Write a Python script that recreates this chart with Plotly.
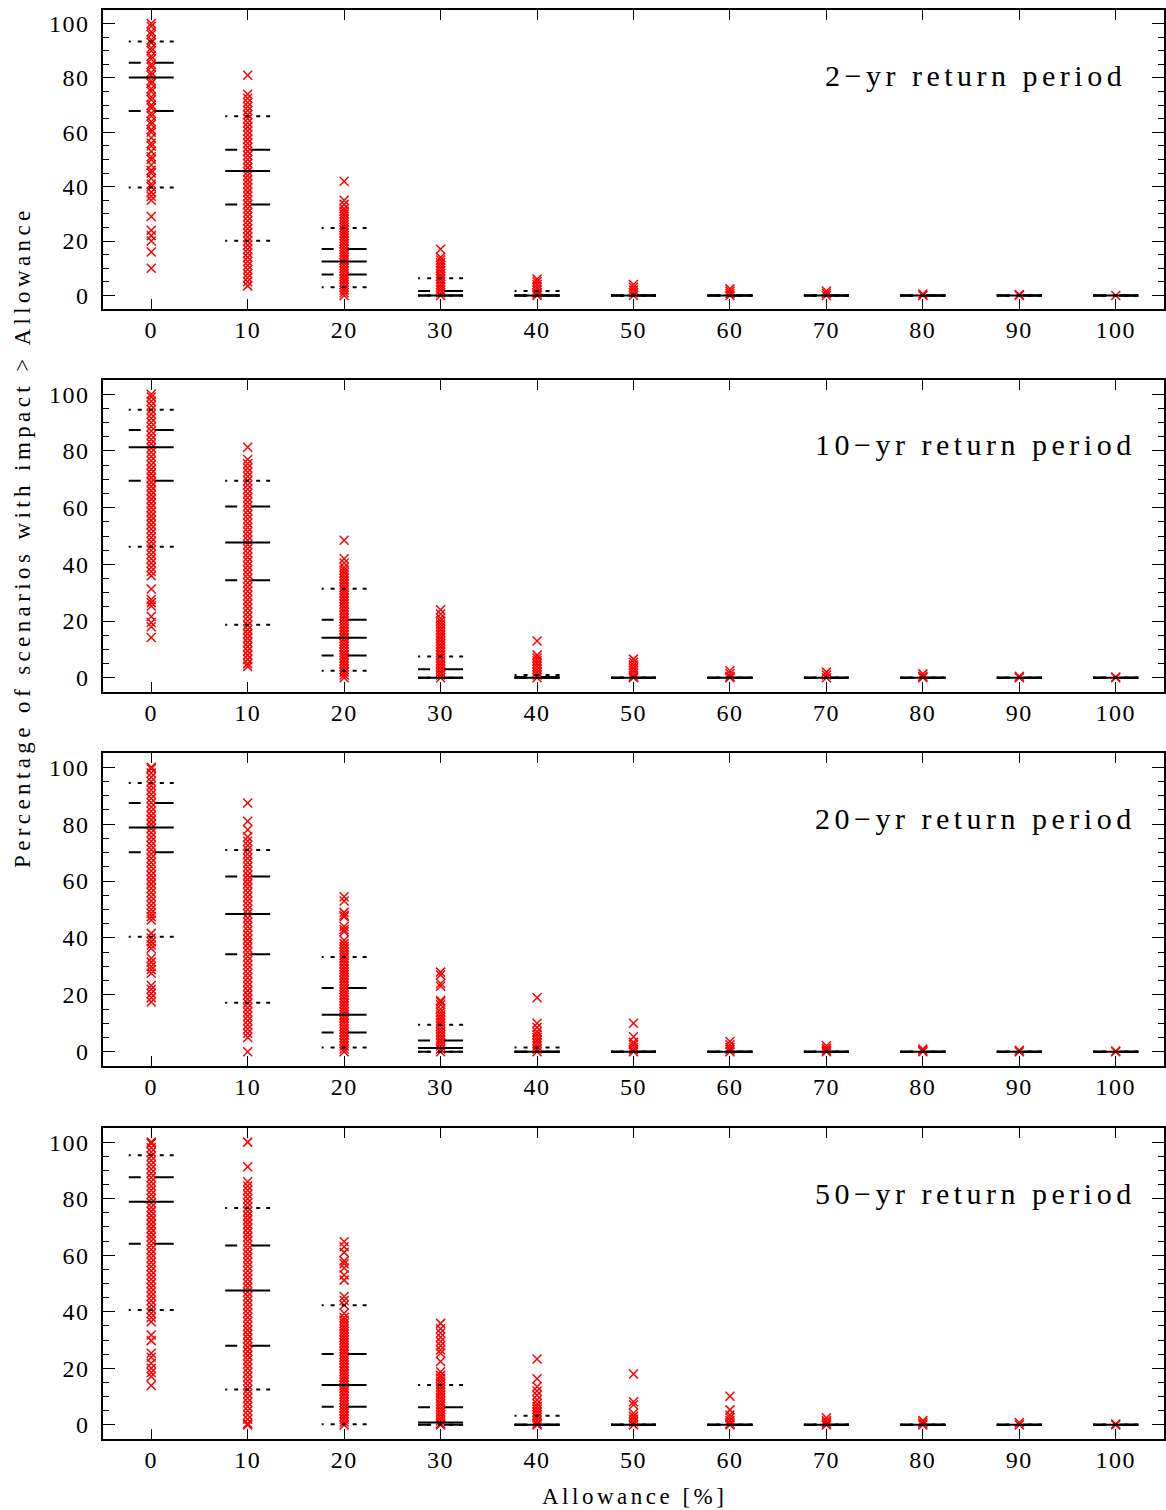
import plotly.graph_objects as go

# Allowance levels on the x axis (%)
allowance = [0, 10, 20, 30, 40, 50, 60, 70, 80, 90, 100]

panel_labels = ["2−yr return period", "10−yr return period",
                "20−yr return period", "50−yr return period"]

# ---- 2-yr return period: per-scenario values at each allowance ----
rp2_scenarios = [
    [10, 16, 20, 22, 24, 29, 35, 36.5, 38, 40, 41, 43, 45, 46, 48, 50, 51, 53, 55, 56, 58, 60, 61, 63,
     64, 66, 67, 69, 70, 72, 73, 75, 76, 78, 79, 81, 82, 84, 85, 87, 88, 90, 91, 93, 94, 96, 97, 99, 100],
    [81, 74, 72.5, 71, 69.5, 68, 66.5, 65, 63.5, 62, 60.5, 59, 57.5, 56, 54.5, 53, 51.5, 50, 48.5, 47,
     45.5, 44, 42.5, 41, 39.5, 38, 36.5, 35, 33.5, 32, 30.5, 29, 27.5, 26, 24.5, 23, 21.5, 20, 18.5, 17,
     15.5, 14, 12.5, 11, 9.5, 8, 6.5, 5, 3.5],
    [42, 35, 33.5, 32, 31, 30, 29, 28, 27, 26, 25, 24, 23, 22, 21, 20, 19, 18, 17, 16, 15, 14, 13, 12,
     11, 10, 9, 8, 7, 6, 5, 4, 3, 2, 1, 0],
    [17, 14, 13, 12, 11, 10, 9, 8, 7, 6, 5, 4, 3, 2, 1, 0],
    [6, 5, 4, 3, 2, 1, 0.5, 0],
    [4, 3, 2, 1, 0],
    [2.4, 1.5, 0.7, 0],
    [1.6, 0.8, 0],
    [0.5, 0],
    [0.3, 0],
    [0],
]
rp2_median = [80.2, 45.8, 12.5, 0, 0, 0, 0, 0, 0, 0, 0]
rp2_q75 = [85.6, 53.6, 17.1, 1.6, 0, 0, 0, 0, 0, 0, 0]
rp2_q25 = [67.8, 33.4, 7.7, 0, 0, 0, 0, 0, 0, 0, 0]
rp2_p90 = [93.4, 65.9, 24.8, 6.3, 1.6, 0, 0, 0, 0, 0, 0]
rp2_p10 = [39.7, 20.1, 3.0, 0, 0, 0, 0, 0, 0, 0, 0]

# ---- 10-yr return period ----
rp10_scenarios = [
    [14.2, 18, 19.5, 21.6, 25.3, 26.5, 27.6, 31.3, 36, 37.5, 39, 40.5, 42, 43.5, 45, 46.5, 48, 49.5,
     51, 52.5, 54, 55.5, 57, 58.5, 60, 61.5, 63, 64.5, 66, 67.5, 69, 70.5, 72, 73.5, 75, 76.5, 78, 79.5,
     81, 82.5, 84, 85.5, 87, 88.5, 90, 91.5, 93, 94.5, 96, 97.5, 99, 100],
    [81.3, 77, 75.5, 74, 72.5, 71, 69.5, 68, 66.5, 65, 63.5, 62, 60.5, 59, 57.5, 56, 54.5, 53, 51.5,
     50, 48.5, 47, 45.5, 44, 42.5, 41, 39.5, 38, 36.5, 35, 33.5, 32, 30.5, 29, 27.5, 26, 24.5, 23, 21.5,
     20, 18.5, 17, 15.5, 14, 12.5, 11, 9.5, 8, 6.5, 5, 4],
    [48.5, 42, 40.5, 39, 38, 37, 36, 35, 34, 33, 32, 31, 30, 29, 28, 27, 26, 25, 24, 23, 22, 21, 20,
     19, 18, 17, 16, 15, 14, 13, 12, 11, 10, 9, 8, 7, 6, 5, 4, 3, 2, 1, 0],
    [24, 22.5, 21, 20, 19, 18, 17, 16, 15, 14, 13, 12, 11, 10, 9, 8, 7, 6, 5, 4, 3, 2, 1, 0],
    [13, 8, 7, 6, 5, 4, 3, 2, 1, 0],
    [6.6, 5.5, 4.5, 3.5, 2.5, 1.5, 0.5, 0],
    [2.5, 1.5, 0.5, 0],
    [2, 1, 0],
    [1.4, 0.5, 0],
    [0.5, 0],
    [0.3, 0],
]
rp10_median = [81.3, 47.7, 14.1, 0, 0, 0, 0, 0, 0, 0, 0]
rp10_q75 = [87.4, 60.4, 20.5, 3.0, 0.3, 0, 0, 0, 0, 0, 0]
rp10_q25 = [69.5, 34.4, 7.9, 0, 0, 0, 0, 0, 0, 0, 0]
rp10_p90 = [94.5, 69.5, 31.4, 7.5, 1.0, 0, 0, 0, 0, 0, 0]
rp10_p10 = [46.2, 18.7, 2.5, 0, 0, 0, 0, 0, 0, 0, 0]

# ---- 20-yr return period ----
rp20_scenarios = [
    [17.5, 19, 20.5, 22, 23.3, 27.6, 28.8, 30, 31.5, 32.9, 36.3, 37.5, 38.7, 40, 41.6, 46.3, 47.5,
     48.7, 50, 51.5, 53, 54.5, 56, 57.5, 59, 60.5, 62, 63.5, 65, 66.5, 68, 69.5, 71, 72.5, 74, 75.5, 77,
     78.5, 80, 81.5, 83, 84.5, 86, 87.5, 89, 90.5, 92, 93.5, 95, 96.5, 98, 99.5, 100],
    [0, 5, 6.5, 8, 9.5, 11, 12.5, 14, 15.5, 17, 18.5, 20, 21.5, 23, 24.5, 26, 27.5, 29, 30.5, 32, 33.5,
     35, 36.5, 38, 39.5, 41, 42.5, 44, 45.5, 47, 48.5, 50, 51.5, 53, 54.5, 56, 57.5, 59, 60.5, 62, 63.5,
     65, 66.5, 68, 69.5, 71, 72.5, 74, 75.5, 78, 81, 87.4],
    [54.5, 53, 49, 48, 47.5, 44, 43, 42.2, 39.2, 38, 37, 36, 35, 34, 33, 32, 31, 30, 29, 28, 27, 26,
     25, 24, 23, 22, 21, 20, 19, 18, 17, 16, 15, 14, 13, 12, 11, 10, 9, 8, 7, 6, 5, 4, 3, 2, 1, 0],
    [28, 27, 24, 23, 18, 17.5, 16.5, 15, 14, 13, 12, 11, 10, 9, 8, 7, 6, 5, 4, 3, 2, 1, 0],
    [19, 10, 8.5, 7, 6, 5, 4, 3, 2, 1, 0],
    [10, 5.3, 3.3, 2.5, 1.5, 0.7, 0],
    [3.6, 2.5, 1.5, 0.7, 0],
    [2.1, 1.2, 0.5, 0],
    [1, 0.4, 0],
    [0.5, 0],
    [0.3, 0],
]
rp20_median = [78.8, 48.4, 13.0, 1.3, 0, 0, 0, 0, 0, 0, 0]
rp20_q75 = [87.4, 61.6, 22.4, 4.0, 0, 0, 0, 0, 0, 0, 0]
rp20_q25 = [70.1, 34.3, 6.8, 0, 0, 0, 0, 0, 0, 0, 0]
rp20_p90 = [94.5, 70.9, 33.3, 9.5, 1.5, 0, 0, 0, 0, 0, 0]
rp20_p10 = [40.4, 17.2, 1.5, 0, 0, 0, 0, 0, 0, 0, 0]

# ---- 50-yr return period ----
rp50_scenarios = [
    [13.9, 17.1, 18.5, 20, 21.8, 23.9, 25.3, 29.8, 31.8, 36.5, 38, 39.5, 41, 42.5, 44, 45.5, 47, 48.5,
     50, 51.5, 53, 54.5, 56, 57.5, 59, 60.5, 62, 63.5, 65, 66.5, 68, 69.5, 71, 72.5, 74, 75.5, 77, 78.5,
     80, 81.5, 83, 84.5, 86, 87.5, 89, 90.5, 92, 93.5, 95, 96.5, 98, 99.5, 100],
    [100, 91.3, 86, 84.5, 83, 81.5, 80, 78.5, 77, 75.5, 74, 72.5, 71, 69.5, 68, 66.5, 65, 63.5, 62,
     60.5, 59, 57.5, 56, 54.5, 53, 51.5, 50, 48.5, 47, 45.5, 44, 42.5, 41, 39.5, 38, 36.5, 35, 33.5, 32,
     30.5, 29, 27.5, 26, 24.5, 23, 21.5, 20, 18.5, 17, 15.5, 14, 12.5, 11, 9.5, 8, 6.5, 5, 3.5, 2, 0.5, 0],
    [64.8, 63, 61, 58, 57, 55.5, 53, 51.2, 45.4, 44, 42.4, 39.5, 38, 37, 36, 35, 34, 33, 32, 31, 30,
     29, 28, 27, 26, 25, 24, 23, 22, 21, 20, 19, 18, 17, 16, 15, 14, 13, 12, 11, 10, 9, 8, 7, 6, 5, 4,
     3, 2, 1, 0],
    [35.9, 34, 32.5, 31, 29.5, 28, 26.5, 25.3, 22.4, 18.8, 17.5, 16.5, 15.5, 14.5, 13.5, 12.5, 11.5,
     10.5, 9.5, 8.5, 7.5, 6.5, 5.5, 4.5, 3.5, 2.5, 1.5, 0.5, 0],
    [23.3, 16.3, 13.5, 12, 10.5, 8.8, 7.5, 6.5, 5.5, 4.5, 3.5, 2.5, 1.5, 0.5, 0],
    [18, 8.2, 7.1, 4.1, 3, 2, 1, 0],
    [10.1, 5.3, 3.5, 2.5, 1.5, 0.5, 0],
    [2.5, 1.5, 0.7, 0],
    [1.5, 0.7, 0],
    [0.8, 0],
    [0.3, 0],
]
rp50_median = [78.9, 47.5, 14.1, 0.8, 0, 0, 0, 0, 0, 0, 0]
rp50_q75 = [87.6, 63.4, 25.1, 6.2, 0, 0, 0, 0, 0, 0, 0]
rp50_q25 = [64.1, 28.0, 6.4, 0, 0, 0, 0, 0, 0, 0, 0]
rp50_p90 = [95.4, 76.7, 42.3, 14.1, 3.2, 0, 0, 0, 0, 0, 0]
rp50_p10 = [40.6, 12.5, 0.2, 0, 0, 0, 0, 0, 0, 0, 0]

panels = [
    (rp2_scenarios, rp2_median, rp2_q25, rp2_q75, rp2_p10, rp2_p90),
    (rp10_scenarios, rp10_median, rp10_q25, rp10_q75, rp10_p10, rp10_p90),
    (rp20_scenarios, rp20_median, rp20_q25, rp20_q75, rp20_p10, rp20_p90),
    (rp50_scenarios, rp50_median, rp50_q25, rp50_q75, rp50_p10, rp50_p90),
]

W, H = 1166, 1510
FONT = "Liberation Serif"
X_DOM = [103 / W, 1164 / W]
# panel frames in pixels (top, bottom)
frames = [(10, 309), (380, 692), (753, 1066), (1128, 1439)]
HALF = 2.33  # half-width of the summary bars, in allowance units

QUART_DASH = "12px,14px,30px"
DECILE_DASH = "2px,7px,4px,7px,4px,7px,4px,6px,4px"


def spaced(text, px):
    """Wrap text in a span with extra letter spacing (wide plotter-style lettering)."""
    return f'<span style="letter-spacing:{px}px">{text}</span>'


def segments(values):
    xs, ys = [], []
    for a, v in zip(allowance, values):
        xs += [a - HALF, a + HALF, None]
        ys += [v, v, None]
    return xs, ys


fig = go.Figure()
layout = dict(width=W, height=H, margin=dict(l=0, r=0, t=0, b=0),
              paper_bgcolor="white", plot_bgcolor="white", showlegend=False,
              font=dict(family=FONT, color="black"))

annotations = []
for i, (scen, med, q25, q75, p10, p90) in enumerate(panels):
    k = "" if i == 0 else str(i + 1)
    xa, ya = "x" + k, "y" + k

    xs, ys = [], []
    for a, vals in zip(allowance, scen):
        xs += [a] * len(vals)
        ys += vals
    fig.add_trace(go.Scatter(
        x=xs, y=ys, mode="markers", xaxis=xa, yaxis=ya,
        marker=dict(symbol="x-thin", size=9, color="red",
                    line=dict(color="red", width=1.5)),
        hoverinfo="y"))

    for vals, dash in [(p10, DECILE_DASH), (p90, DECILE_DASH),
                       (q25, QUART_DASH), (q75, QUART_DASH), (med, "solid")]:
        sx, sy = segments(vals)
        fig.add_trace(go.Scatter(
            x=sx, y=sy, mode="lines", xaxis=xa, yaxis=ya,
            line=dict(color="black", width=2, dash=dash), hoverinfo="skip"))

    top, bot = frames[i]
    y_dom = [(H - bot) / H, (H - top) / H]
    layout["xaxis" + k] = dict(
        domain=X_DOM, anchor=ya, range=[-5, 105], tickmode="array",
        tickvals=allowance, ticktext=[spaced(a, 1.5) for a in allowance],
        ticks="inside", ticklen=10, tickwidth=1, tickcolor="black",
        showline=True, linecolor="black", linewidth=2, mirror="ticks",
        showgrid=False, zeroline=False, ticklabelstandoff=-2,
        tickfont=dict(family=FONT, size=24, color="black"))
    yt = [0, 20, 40, 60, 80, 100]
    layout["yaxis" + k] = dict(
        domain=y_dom, anchor=xa, range=[-5, 105], tickmode="array",
        tickvals=yt, ticktext=[spaced(v, 1.5) for v in yt],
        ticks="inside", ticklen=12, tickwidth=1, tickcolor="black",
        minor=dict(dtick=5, tick0=0, ticks="inside", ticklen=6,
                   tickwidth=1, tickcolor="black"),
        showline=True, linecolor="black", linewidth=1.5, mirror="ticks",
        showgrid=False, zeroline=False, ticklabelstandoff=7,
        tickfont=dict(family=FONT, size=24, color="black"))

    annotations.append(dict(
        text=spaced(panel_labels[i], 4.5), xref="paper", yref="paper",
        x=(1128 if i == 0 else 1138) / W, y=(H - (top + 65)) / H,
        xanchor="right", yanchor="middle", showarrow=False,
        font=dict(family=FONT, size=30, color="black")))

annotations.append(dict(
    text=spaced("Percentage of scenarios with impact > Allowance", 4.4),
    xref="paper", yref="paper", x=22 / W, y=(H - 537) / H,
    xanchor="center", yanchor="middle", textangle=-90, showarrow=False,
    font=dict(family=FONT, size=23, color="black")))
annotations.append(dict(
    text=spaced("Allowance [%]", 3.5), xref="paper", yref="paper",
    x=634 / W, y=(H - 1496) / H,
    xanchor="center", yanchor="middle", showarrow=False,
    font=dict(family=FONT, size=23, color="black")))

layout["annotations"] = annotations
fig.update_layout(**layout)
fig.write_html("out.html")
